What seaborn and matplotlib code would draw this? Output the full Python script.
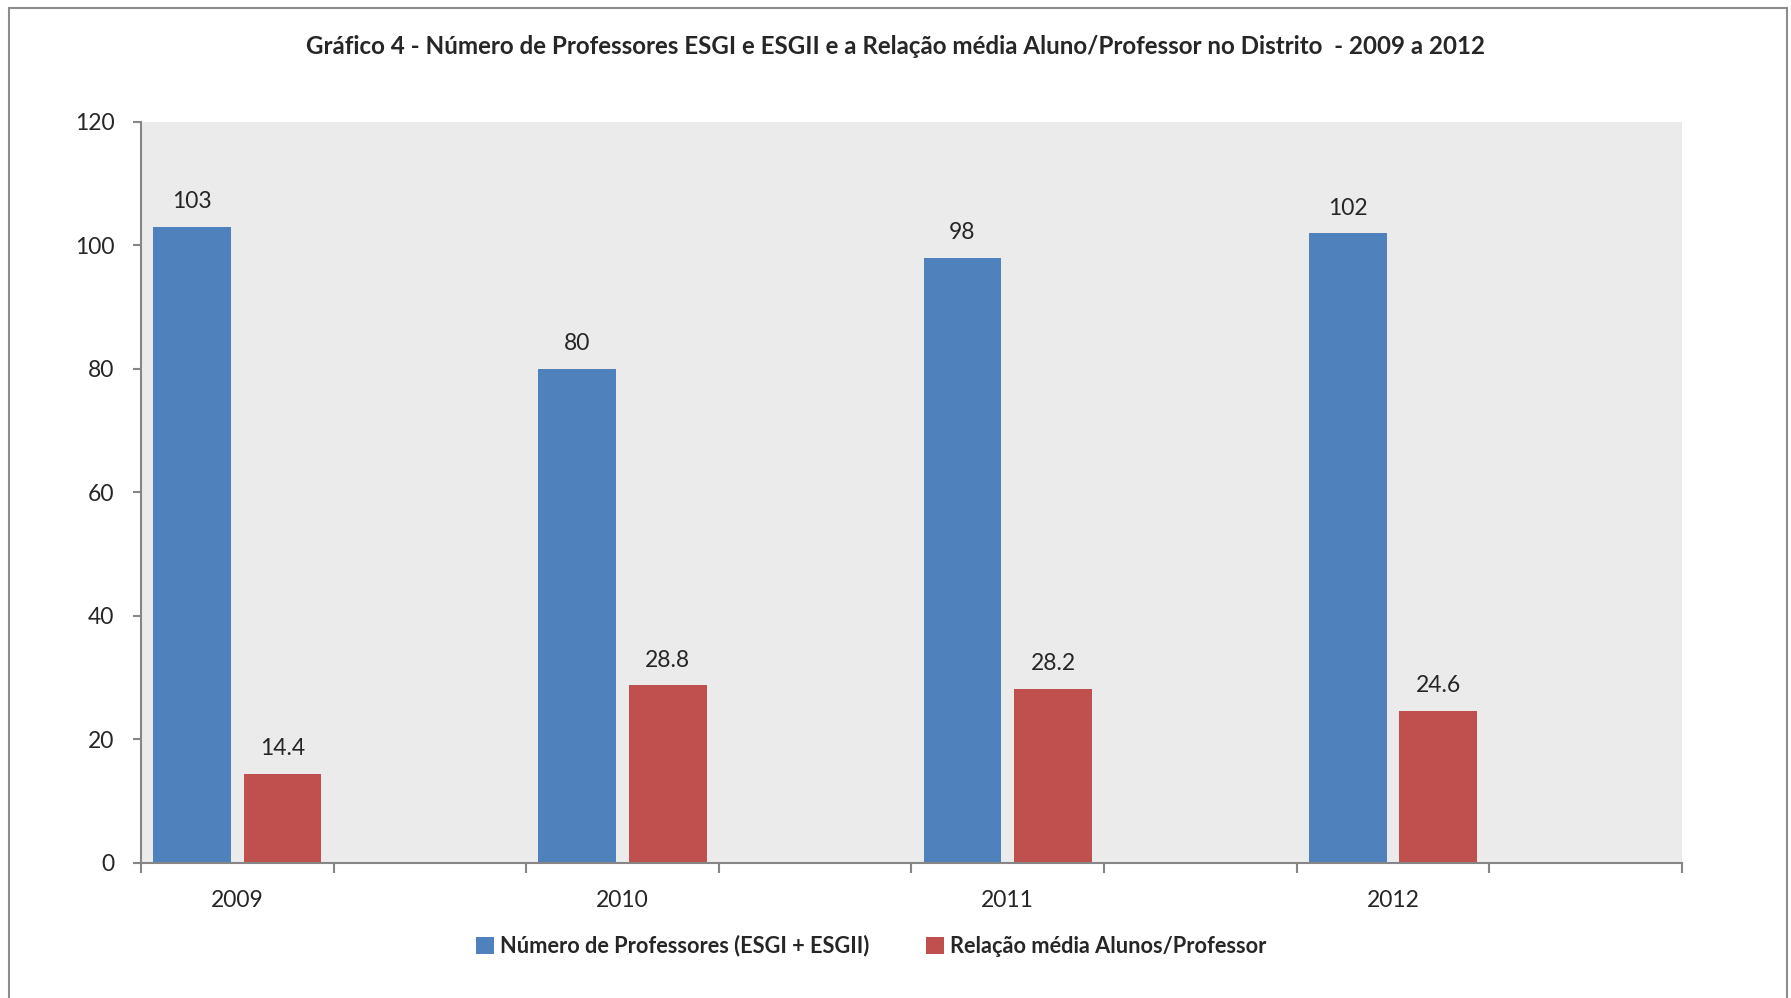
import matplotlib
matplotlib.use("Agg")
import matplotlib.pyplot as plt
import seaborn as sns
import pandas as pd
from matplotlib.patches import Rectangle

# data
years = ["2009", "2010", "2011", "2012"]
professores = [103, 80, 98, 102]
relacao = [14.4, 28.8, 28.2, 24.6]
series_names = ["Número de Professores (ESGI + ESGII)", "Relação média Alunos/Professor"]
title = "Gráfico 4 - Número de Professores ESGI e ESGII e a Relação média Aluno/Professor no Distrito  - 2009 a 2012"

# the original category axis has an empty slot after each year
order = []
for i, y in enumerate(years):
    order += [y, " " * (i + 1)]

df = pd.DataFrame({"Ano": years, series_names[0]: professores, series_names[1]: relacao})
df = df.melt(id_vars="Ano", var_name="Serie", value_name="Valor")

sns.set_style("white")
plt.rcParams["font.family"] = ["Lato", "DejaVu Sans"]

fig = plt.figure(figsize=(17.91, 9.98), dpi=100)
ax = fig.add_axes([0.0787, 0.1353, 0.8604, 0.7425])
ax.set_facecolor("#ebebeb")

sns.barplot(data=df, x="Ano", y="Valor", hue="Serie", order=order,
            hue_order=series_names, palette=["#4F81BD", "#C0504D"],
            width=0.94, gap=0.14, saturation=1, linewidth=0, ax=ax)

for c in ax.containers:
    ax.bar_label(c, fmt="{:g}", padding=10.5, fontsize=16.5)

ax.set_ylim(0, 120)
ax.set_xlim(-0.5, len(order) - 0.5)
ax.set_yticks(range(0, 121, 20))
ax.set_xlabel("")
ax.set_ylabel("")

# ticks on slot edges, labels in the middle of the year slots
ax.set_xticks([i - 0.5 for i in range(len(order) + 1)])
ax.set_xticklabels([])
ax.set_xticks(range(0, len(order), 2), minor=True)
ax.set_xticklabels(years, minor=True)
ax.tick_params(axis="x", which="major", length=7, width=1.5, color="#868686", direction="out", bottom=True)
ax.tick_params(axis="x", which="minor", length=0, pad=19.5, labelsize=16.5)
ax.tick_params(axis="y", length=6, width=1.5, color="#868686", direction="out", left=True, pad=13, labelsize=16.5)

for s in ["top", "right"]:
    ax.spines[s].set_visible(False)
for s in ["left", "bottom"]:
    ax.spines[s].set_color("#868686")
    ax.spines[s].set_linewidth(1.5)

sns.move_legend(ax, "center", bbox_to_anchor=(0.4866, 1 - 946 / 998), bbox_transform=fig.transFigure,
                ncol=2, frameon=False, title=None, prop={"weight": "bold", "size": 15.7},
                handlelength=0.8, handleheight=0.8, handletextpad=0.3, columnspacing=2.6)

fig.text(0.5, 1 - 46 / 998, title, ha="center", va="center", fontsize=17.4, fontweight="bold")

# outer chart frame
fig.patches.append(Rectangle((9 / 1791, -0.05), 1778 / 1791, 1.05 - 8 / 998, transform=fig.transFigure,
                             fill=False, edgecolor="#8c8c8c", linewidth=1.5))

fig.savefig("out.png", dpi=100)
